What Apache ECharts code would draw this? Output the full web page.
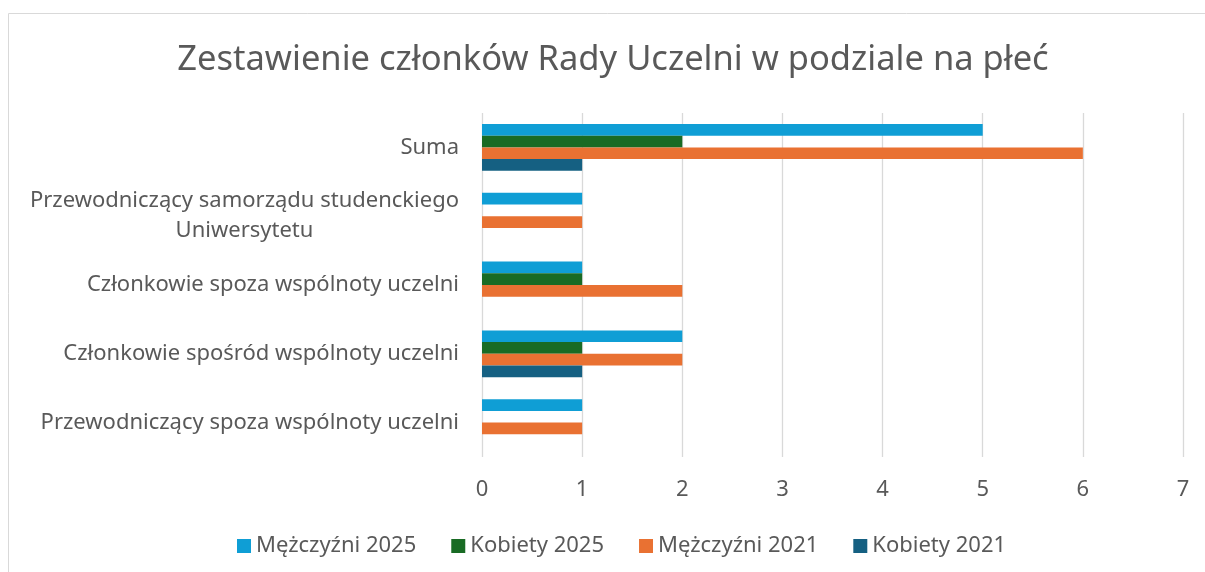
<!DOCTYPE html>
<html>
<head>
<meta charset="utf-8">
<script src="https://cdn.jsdelivr.net/npm/echarts@6/dist/echarts.min.js"></script>
<style>
  html, body { margin: 0; padding: 0; background: #fff; }
  #chart { width: 1205px; height: 572px; }
</style>
</head>
<body>
<div id="chart"></div>
<script>
const CATEGORIES = [
  'Suma',
  'Przewodniczący samorządu studenckiego\nUniwersytetu',
  'Członkowie spoza wspólnoty uczelni',
  'Członkowie spośród wspólnoty uczelni',
  'Przewodniczący spoza wspólnoty uczelni'
]
const MEN_2025 = [5, 1, 1, 2, 1]
const WOMEN_2025 = [2, 0, 1, 1, 0]
const MEN_2021 = [6, 1, 2, 2, 1]
const WOMEN_2021 = [1, 0, 0, 1, 0]
const X_TICKS = [0, 1, 2, 3, 4, 5, 6, 7]

const FONT = 'Noto Sans'
const TEXT_COLOR = '#595959'
const GRID_COLOR = '#d9d9d9'

function barSeries(name, data, color) {
  return {
    name,
    type: 'bar',
    data,
    barGap: '0%',
    barCategoryGap: '32%',
    itemStyle: { color },
    emphasis: { disabled: true }
  }
}

// wrapped labels: block stays right aligned, lines centred inside it (as in Excel)
function categoryLabel(value) {
  if (value.indexOf('\n') < 0) {
    return value
  }
  return value.split('\n').map((line) => `{c|${line}}`).join('\n')
}

const chart = echarts.init(document.getElementById('chart'), null, { renderer: 'canvas' })

chart.setOption({
  animation: false,
  textStyle: { fontFamily: FONT },
  title: {
    text: 'Zestawienie członków Rady Uczelni w podziale na płeć',
    left: 608,
    top: 38,
    textAlign: 'center',
    textStyle: {
      fontFamily: FONT,
      fontSize: 34.5,
      fontWeight: 'normal',
      color: TEXT_COLOR
    }
  },
  graphic: [
    {
      type: 'rect',
      shape: { x: 8.5, y: 13.5, width: 1220, height: 600 },
      style: { fill: 'none', stroke: GRID_COLOR, lineWidth: 1 },
      silent: true
    }
  ],
  legend: {
    left: 232,
    top: 530,
    itemWidth: 14,
    itemHeight: 14,
    itemGap: 35,
    icon: 'rect',
    textStyle: { fontFamily: FONT, fontSize: 22, color: TEXT_COLOR },
    data: ['Mężczyźni 2025', 'Kobiety 2025', 'Mężczyźni 2021', 'Kobiety 2021']
  },
  grid: {
    left: 482,
    right: 22,
    top: 113,
    bottom: 115,
    containLabel: false
  },
  xAxis: {
    type: 'value',
    min: X_TICKS[0],
    max: X_TICKS[X_TICKS.length - 1],
    interval: 1,
    axisLine: { show: false },
    axisTick: { show: false },
    splitLine: { show: true, lineStyle: { color: GRID_COLOR, width: 1.3 } },
    axisLabel: {
      margin: 22,
      fontFamily: FONT,
      fontSize: 22,
      color: TEXT_COLOR
    }
  },
  yAxis: {
    type: 'category',
    inverse: true,
    data: CATEGORIES,
    axisLine: { show: false },
    axisTick: { show: false },
    axisLabel: {
      margin: 23,
      fontFamily: FONT,
      fontSize: 22,
      color: TEXT_COLOR,
      lineHeight: 30,
      align: 'right',
      formatter: categoryLabel,
      rich: {
        c: {
          align: 'center',
          fontFamily: FONT,
          fontSize: 22,
          color: TEXT_COLOR,
          lineHeight: 30
        }
      }
    }
  },
  series: [
    barSeries('Mężczyźni 2025', MEN_2025, '#0f9ed5'),
    barSeries('Kobiety 2025', WOMEN_2025, '#196b24'),
    barSeries('Mężczyźni 2021', MEN_2021, '#e97132'),
    barSeries('Kobiety 2021', WOMEN_2021, '#156082')
  ]
})
</script>
</body>
</html>
